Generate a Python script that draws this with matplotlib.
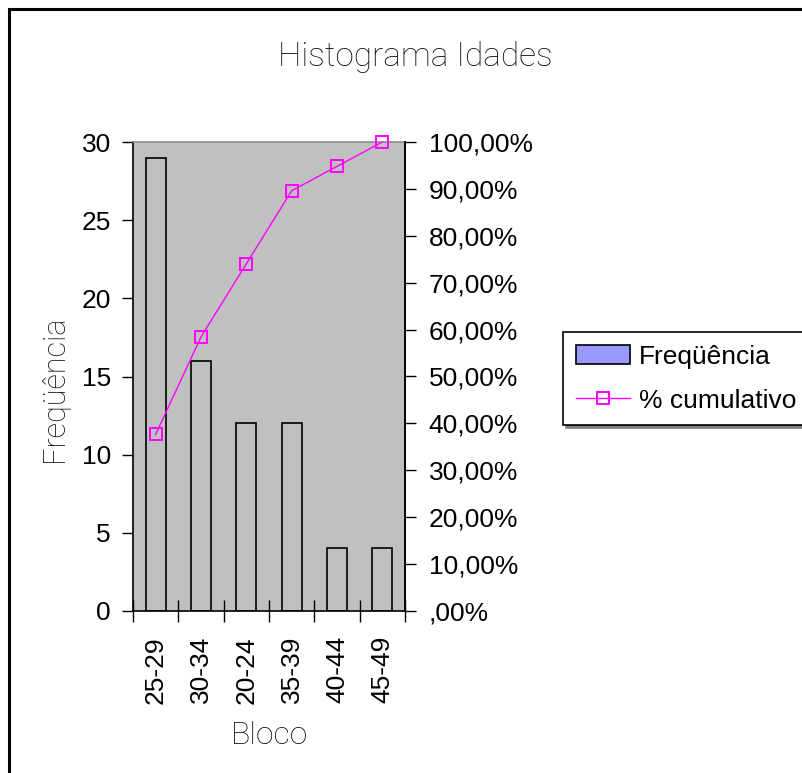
import matplotlib
matplotlib.use("Agg")
import matplotlib.pyplot as plt
from matplotlib.patches import Rectangle, Patch
from matplotlib.lines import Line2D
from matplotlib.ticker import FixedLocator, FuncFormatter, NullFormatter

# Data
blocos = ["25-29", "30-34", "20-24", "35-39", "40-44", "45-49"]
frequencia = [29, 16, 12, 12, 4, 4]
cumulativo = [0.3766, 0.5844, 0.7403, 0.8961, 0.9481, 1.0]

W, H = 802, 773
fig = plt.figure(figsize=(W / 100, H / 100), dpi=100)

TICK_FONT = "Liberation Sans"
LIGHT_FONT = "Roboto"
TICK_SIZE = 19

# Outer chart frame (runs off the right and bottom edges)
fig.patches.append(Rectangle((9 / W, -0.2), 1.2, 1.2 - 9 / H, transform=fig.transFigure,
                             fill=False, edgecolor="black", linewidth=2.2, clip_on=False))

ax = fig.add_axes([133 / W, 1 - 611 / H, (405 - 133) / W, (611 - 142) / H])
ax.set_facecolor("#c0c0c0")

x = list(range(len(blocos)))
ax.bar(x, frequencia, width=0.44, facecolor="#c0c0c0", edgecolor="black",
       linewidth=1.2, zorder=2)
ax.set_xlim(-0.5, len(blocos) - 0.5)
ax.set_ylim(0, 30)
ax.set_yticks(range(0, 31, 5))
ax.tick_params(axis="y", direction="out", length=8, width=1, pad=8,
               labelsize=TICK_SIZE)
for lbl in ax.get_yticklabels():
    lbl.set_fontfamily(TICK_FONT)

# Category boundaries as major ticks, labels on minor ticks at centres
ax.xaxis.set_major_locator(FixedLocator([i - 0.5 for i in range(len(blocos) + 1)]))
ax.xaxis.set_major_formatter(NullFormatter())
ax.xaxis.set_minor_locator(FixedLocator(x))
ax.set_xticklabels(blocos, minor=True, rotation=90, fontsize=TICK_SIZE,
                   fontfamily=TICK_FONT)
ax.tick_params(axis="x", which="major", direction="inout", length=16, width=1)
ax.tick_params(axis="x", which="minor", length=0, pad=18)

for side in ("left", "bottom", "right"):
    ax.spines[side].set_color("black")
    ax.spines[side].set_linewidth(1.2)
ax.spines["top"].set_color("#8c8c8c")
ax.spines["top"].set_linewidth(1.2)

ax2 = ax.twinx()
ax2.plot(x, cumulativo, color="#ff00ff", linewidth=1.0, marker="s",
         markersize=8, markerfacecolor="none", markeredgecolor="#ff00ff",
         markeredgewidth=1.4, clip_on=False, zorder=3)
ax2.set_ylim(0, 1)
ax2.set_yticks([i / 10 for i in range(11)])


def pct(v, _pos):
    s = f"{v * 100:.2f}".replace(".", ",")
    if s.startswith("0,"):
        s = s[1:]
    return s + "%"


ax2.yaxis.set_major_formatter(FuncFormatter(pct))
ax2.tick_params(axis="y", direction="out", length=8, width=1, pad=9,
                labelsize=TICK_SIZE)
for lbl in ax2.get_yticklabels():
    lbl.set_fontfamily(TICK_FONT)
for side in ("left", "bottom", "top"):
    ax2.spines[side].set_visible(False)
ax2.spines["right"].set_color("black")
ax2.spines["right"].set_linewidth(1.2)

# Titles
fig.text(415 / W, 1 - 57 / H, "Histograma Idades", ha="center", va="center",
         fontsize=24, fontfamily=LIGHT_FONT, fontweight="light", color="#111111")
fig.text(270 / W, 1 - 736 / H, "Bloco", ha="center", va="center",
         fontsize=23, fontfamily=LIGHT_FONT, fontweight="light", color="#111111")
fig.text(55 / W, 1 - 389 / H, "Freqüência", ha="center", va="center",
         rotation=90, fontsize=22, fontfamily=LIGHT_FONT, fontweight="light",
         color="#111111")

# Legend
handles = [
    Patch(facecolor="#9999ff", edgecolor="black", linewidth=1.2),
    Line2D([], [], color="#ff00ff", linewidth=1.0, marker="s", markersize=8,
           markerfacecolor="none", markeredgecolor="#ff00ff", markeredgewidth=1.4),
]
leg = fig.legend(handles, ["Freqüência", "% cumulativo"], loc="upper left",
                 bbox_to_anchor=(563 / W, 1 - 332 / H), frameon=True,
                 fancybox=False, shadow={"color": "#808080", "alpha": 1},
                 edgecolor="black", prop={"family": TICK_FONT, "size": 19},
                 handlelength=2.05, handleheight=0.7, handletextpad=0.34,
                 borderpad=0.48, labelspacing=0.76, borderaxespad=0)
leg.get_frame().set_linewidth(1.2)

fig.savefig("out.png", dpi=100)
